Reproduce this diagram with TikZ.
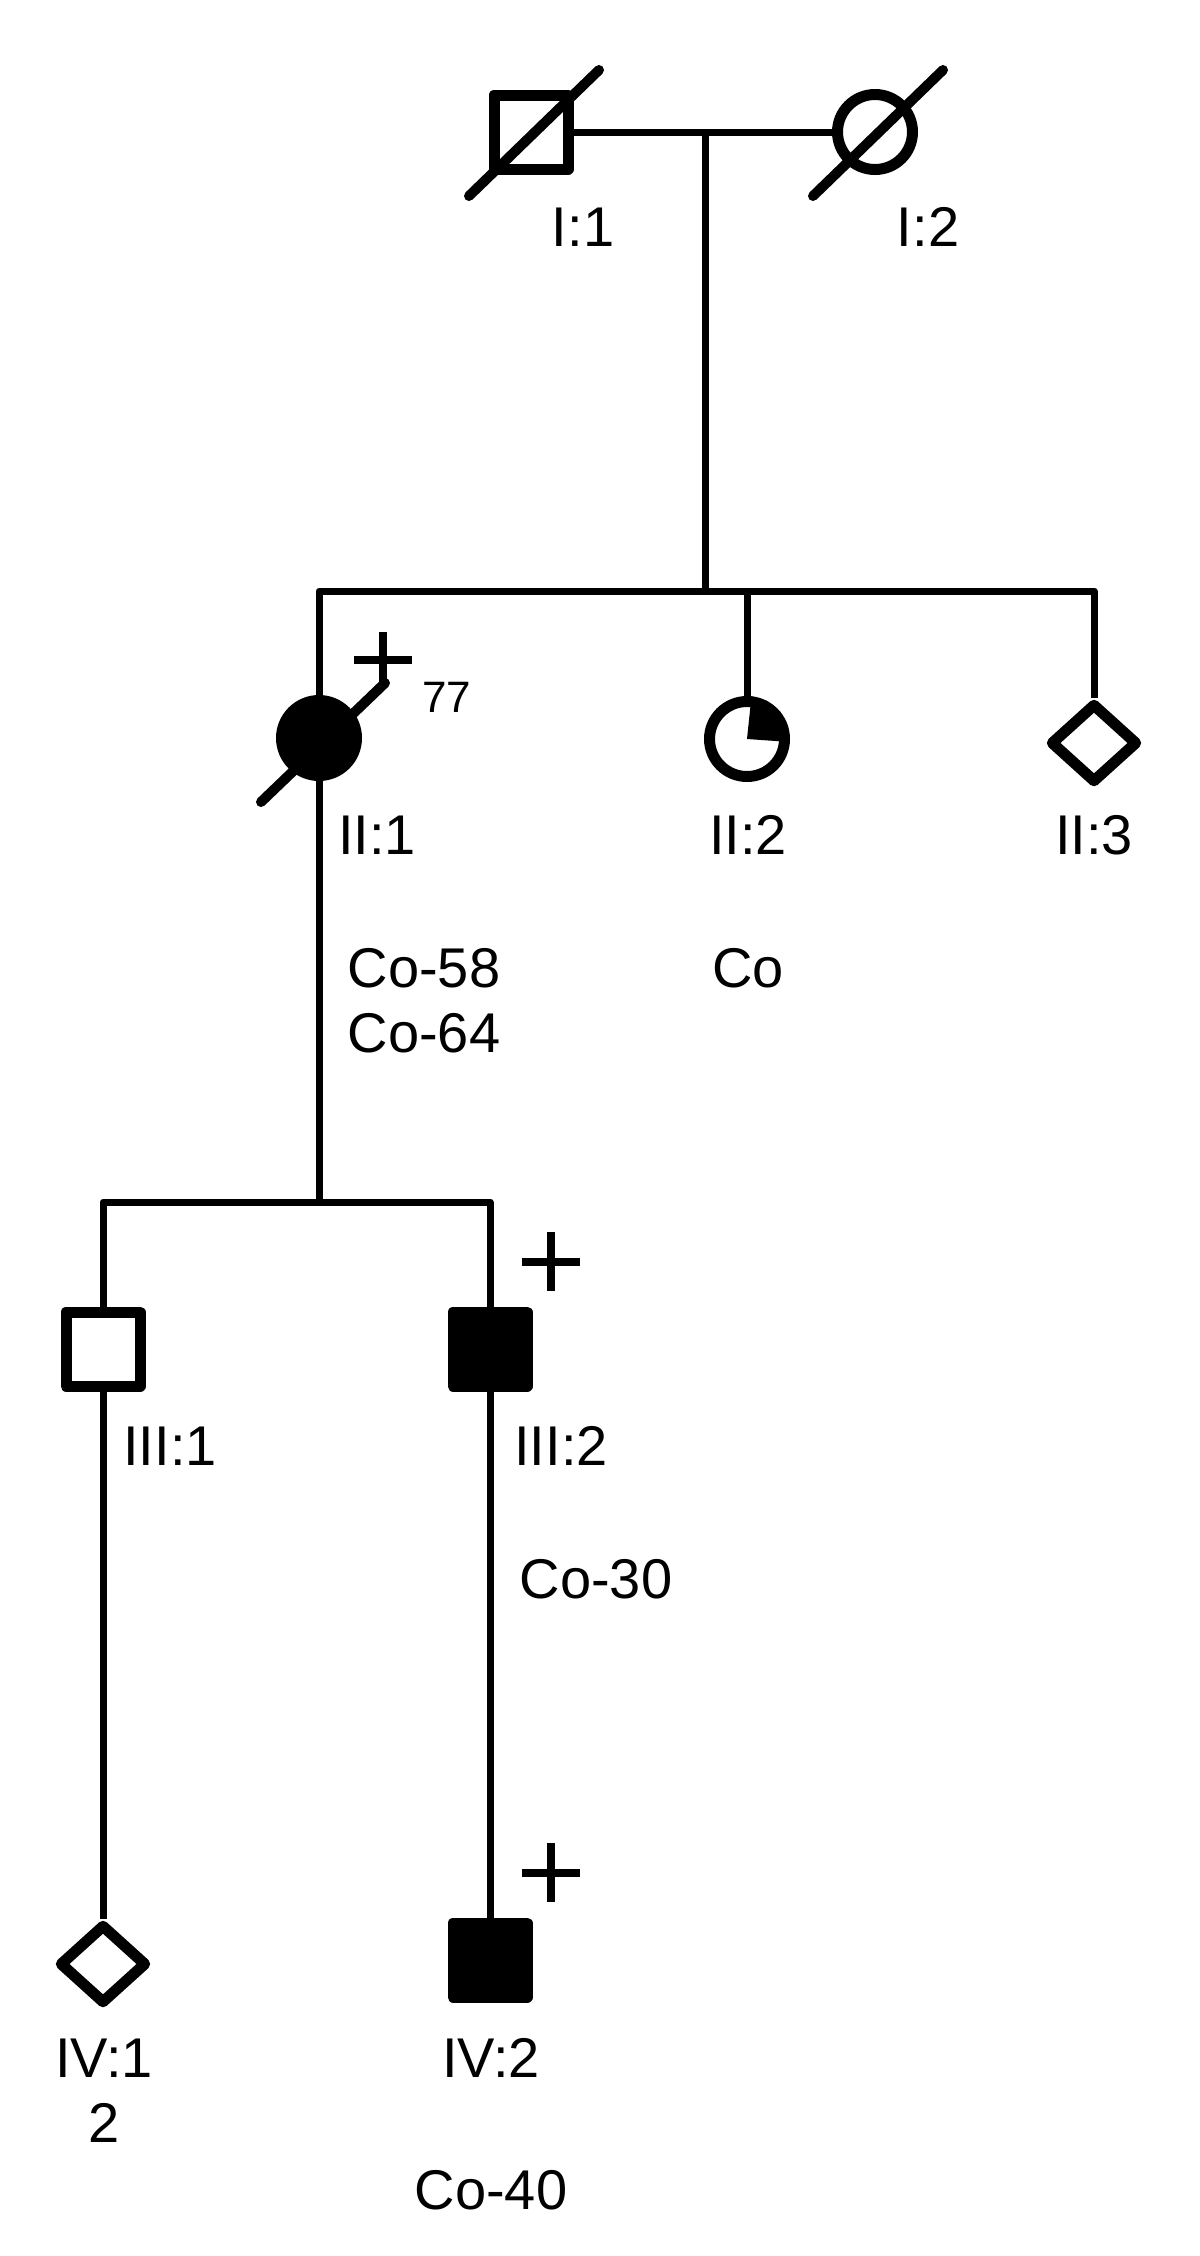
\documentclass[tikz,border=0pt]{standalone}
\usepackage{fontspec}
\setmainfont{Liberation Sans}
\usetikzlibrary{shapes.geometric}

\tikzset{
  indiv/.style={draw, line width=5.5pt, inner sep=0pt},
  male/.style={indiv, rectangle, minimum size=37pt},
  female/.style={indiv, circle, minimum size=37.5pt},
  sexless/.style={indiv, diamond, minimum width=44pt, minimum height=40pt},
  affected/.style={fill=black},
  idlabel/.style={inner sep=0pt, font=\fontsize{28}{34}\selectfont},
  agelabel/.style={inner sep=0pt, font=\fontsize{22}{26}\selectfont},
  line/.style={line width=3.5pt},
  deceased/.style={line width=5pt, line cap=round},
  carrier/.style={line width=4pt}
}

\begin{document}
\begin{tikzpicture}[x=0.5pt, y=-0.5pt, line join=round]
        \useasboundingbox (0,0) rectangle (1200,2256);
        % individuals
        \node[male] (I1) at (531,132) {};
        \node[female] (I2) at (875,132) {};
        \node[female, affected] (II1) at (319,738) {};
        \node[female] (II2) at (747,739) {};
        \node[sexless] (II3) at (1094,743) {};
        \node[male] (III1) at (103,1349) {};
        \node[male, affected] (III2) at (490,1349) {};
        \node[sexless] (IV1) at (103,1964) {};
        \node[male, affected] (IV2) at (490,1960) {};
        \fill (II2.center) -- (II2.-4) -- (II2.18) -- (II2.40) -- (II2.62) -- (II2.84) -- cycle;
        % lines of descent
        \coordinate (M1) at (705,132);
        \coordinate (S2) at (705,591);
        \coordinate (S3) at (319,1202);
        \draw[line] (I1) -- (I2);
        \draw[line] (M1) -- (S2);
        \draw[line] (II1.north) -- (II1 |- S2) -- (II3 |- S2) -- (II3.north);
        \draw[line] (II2.north) -- (II2 |- S2);
        \draw[line] (II1.south) -- (S3);
        \draw[line] (III1.north) -- (III1 |- S3) -- (III2 |- S3) -- (III2.north);
        \draw[line] (III1) -- (IV1);
        \draw[line] (III2) -- (IV2);
        % deceased and carriers
        \draw[deceased] ([shift={(-62,64)}]I1.center) -- ([shift={(68,-62)}]I1.center);
        \draw[deceased] ([shift={(-62,64)}]I2.center) -- ([shift={(68,-62)}]I2.center);
        \draw[deceased] ([shift={(-58,64)}]II1.center) -- ([shift={(66,-55)}]II1.center);
        \draw[carrier] ([shift={(64,-55)}]II1.center) -- ([shift={(64,-106)}]II1.center);
        \draw[carrier] ([shift={(35,-78)}]II1.center) -- ([shift={(93,-78)}]II1.center);
        \foreach \who in {III2,IV2} {
                \draw[carrier] ([shift={(61,-117)}]\who.center) -- ([shift={(61,-58)}]\who.center);
                \draw[carrier] ([shift={(32,-87)}]\who.center) -- ([shift={(90,-87)}]\who.center);
        }
        % labels
        \node[idlabel] (I1lbl) at (583,227) {I:1};
        \node[idlabel] (I2lbl) at (928,227) {I:2};
        \node[agelabel] (II1age) at (447,697) {77};
        \node[idlabel] (II1lbl) at (377,835) {II:1};
        \node[idlabel] (II2lbl) at (748,835) {II:2};
        \node[idlabel] (II3lbl) at (1094,835) {II:3};
        \node[idlabel] (II1coa) at (424,968) {Co-58};
        \node[idlabel] (II1cob) at (424,1033) {Co-64};
        \node[idlabel] (II2co) at (748,968) {Co};
        \node[idlabel] (III1lbl) at (170,1446) {III:1};
        \node[idlabel] (III2lbl) at (561,1446) {III:2};
        \node[idlabel] (III2co) at (596,1579) {Co-30};
        \node[idlabel] (IV1lbl) at (104,2058) {IV:1};
        \node[idlabel] (IV1num) at (104,2123) {2};
        \node[idlabel] (IV2lbl) at (491,2058) {IV:2};
        \node[idlabel] (IV2co) at (491,2190) {Co-40};
\end{tikzpicture}
\end{document}
